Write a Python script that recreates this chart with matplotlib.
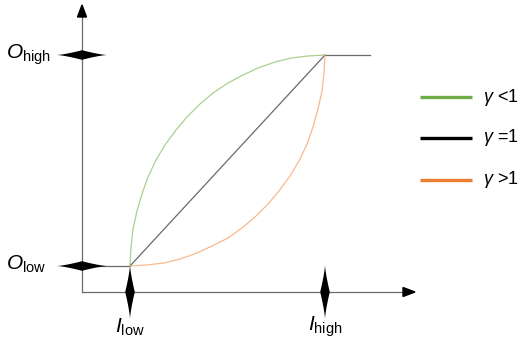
"""
Gamma transfer curve sketch: output level vs input level for gamma <1, =1, >1.
"""
import matplotlib
matplotlib.use("Agg")
import matplotlib.pyplot as plt
from matplotlib.patches import Polygon
import numpy as np

plt.rcParams.update({
    "font.family": ["Liberation Sans", "DejaVu Sans"],
    "mathtext.fontset": "custom",
    "mathtext.rm": "Liberation Sans",
    "mathtext.it": "Liberation Sans:italic",
})

GREEN_L = "#a9d18e"   # thin curve colours (plot)
ORANGE_L = "#f8b98e"
LINE_K = "#6a6a6a"
GREEN = "#70ad47"     # legend swatches
ORANGE = "#ed7d31"

# ---- data (units: px from origin)
i_low, i_high = 48, 243
o_low, o_high = 26, 237
x_end = 288                      # where the top plateau stops
labels = [r"$\mathit{\gamma}$ <1", r"$\mathit{\gamma}$ =1", r"$\mathit{\gamma}$ >1"]

green_x = [48, 49, 51, 55, 60, 66, 74, 83, 94, 105, 118, 131, 146, 161, 176, 193, 209, 226, 243]
green_y = [26, 44, 63, 81, 98, 115, 132, 147, 162, 175, 188, 199, 209, 217, 224, 230, 234, 236, 237]
orange_x = [48, 65, 82, 98, 115, 130, 146, 160, 173, 186, 197, 208, 217, 225, 231, 236, 240, 242, 243]
orange_y = [26, 27, 29, 33, 39, 46, 54, 64, 75, 88, 101, 116, 131, 148, 165, 183, 201, 219, 237]

fig = plt.figure(figsize=(5.2, 3.4), dpi=100)
ax = fig.add_axes([0, 0, 1, 1])
ax.set_xlim(-82, 438)
ax.set_ylim(-48, 292)
ax.axis("off")

# axes with arrow heads
ax.plot([0, 325], [0, 0], color=LINE_K, lw=0.9, zorder=2)
ax.plot([0, 0], [0, 278], color=LINE_K, lw=0.9, zorder=2)
ax.add_patch(Polygon([[333, 0], [321, 4.5], [321, -4.5]], closed=True, color="black", zorder=3))
ax.add_patch(Polygon([[0, 287], [-4.5, 275], [4.5, 275]], closed=True, color="black", zorder=3))


def lens(cx, cy, half_len, half_w, vertical):
    t = np.linspace(-1, 1, 41)
    w = half_w * (1 - np.abs(t)) ** 1.35
    a = np.concatenate([t * half_len, t[::-1] * half_len])
    b = np.concatenate([w, -w[::-1]])
    pts = np.column_stack([cx + b, cy + a]) if vertical else np.column_stack([cx + a, cy + b])
    ax.add_patch(Polygon(pts, closed=True, color="black", lw=0, zorder=4))


lens(0, o_high, 25, 4.8, False)
lens(0, o_low, 25, 4.8, False)
lens(i_low, 0, 27, 4.8, True)
lens(i_high, 0, 27, 4.8, True)

# flat parts + curves
ax.plot([0, i_low], [o_low, o_low], color=LINE_K, lw=0.9, zorder=2)
ax.plot([i_high, x_end], [o_high, o_high], color=LINE_K, lw=0.9, zorder=2)
ax.plot(green_x, green_y, color=GREEN_L, lw=0.9, zorder=2)
ax.plot([i_low, i_high], [o_low, o_high], color=LINE_K, lw=0.9, zorder=2)
ax.plot(orange_x, orange_y, color=ORANGE_L, lw=0.9, zorder=2)

# level labels
ax.text(-76, o_high, r"$\mathit{O}_{\mathrm{high}}$", fontsize=15, va="center", ha="left")
ax.text(-76, o_low + 2, r"$\mathit{O}_{\mathrm{low}}$", fontsize=15, va="center", ha="left")
ax.text(i_low, -35, r"$\mathit{I}_{\mathrm{low}}$", fontsize=15, va="center", ha="center")
ax.text(i_high, -35, r"$\mathit{I}_{\mathrm{high}}$", fontsize=15, va="center", ha="center")

# legend
for lab, col, y in zip(labels, [GREEN, "black", ORANGE], [195, 154, 112]):
    ax.plot([338, 390], [y, y], color=col, lw=2.4, solid_capstyle="butt")
    ax.text(401, y, lab, fontsize=13, va="center", ha="left")

fig.savefig("out.png", dpi=100)
